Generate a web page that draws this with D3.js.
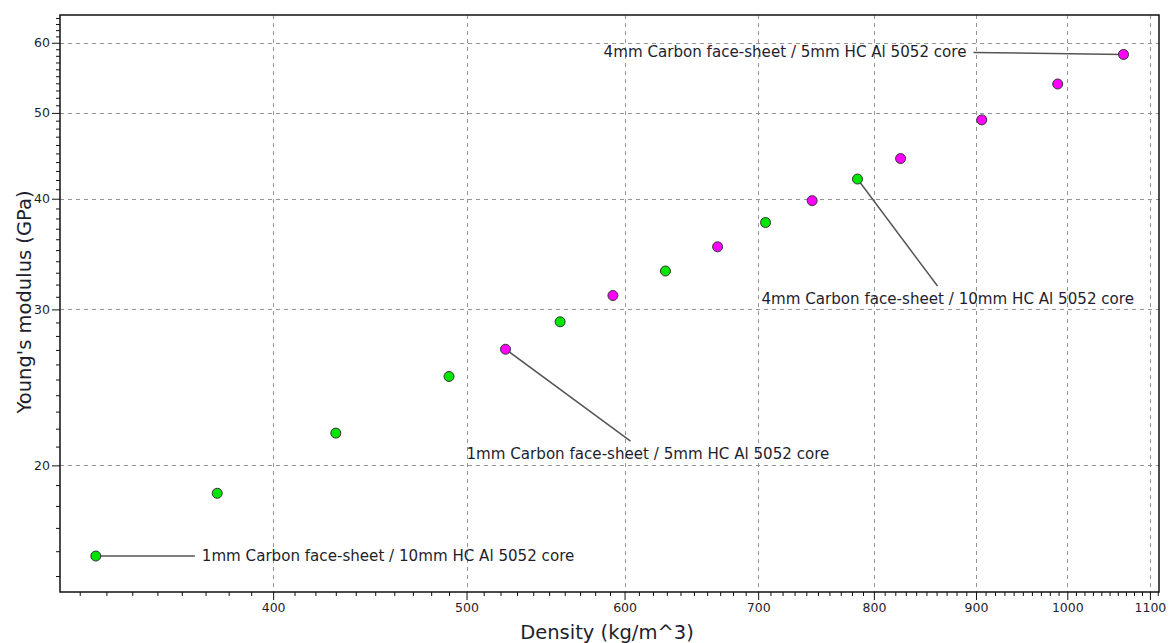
<!DOCTYPE html>
<html>
<head>
<meta charset="utf-8">
<script src="https://cdn.jsdelivr.net/npm/d3@7"></script>
<style>
  html, body { margin: 0; padding: 0; background: #fff; }
  svg { display: block; }
  text { font-family: "DejaVu Sans", sans-serif; fill: #1e1e2e; }
</style>
</head>
<body>
<svg id="chart" width="1174" height="643"></svg>
<script>
// Sandwich panels: density vs. Young's modulus (log-log)
const densityGreen = [326, 375, 430, 490, 557, 629, 706, 785];
const modulusGreen = [15.8, 18.6, 21.75, 25.2, 29.05, 33.15, 37.6, 42.1];
const densityMagenta = [523, 592, 668, 745, 825, 906, 989, 1067];
const modulusMagenta = [27.05, 31.1, 35.3, 39.8, 44.4, 49.1, 53.9, 58.2];

const xTickLabels = [400, 500, 600, 700, 800, 900, 1000, 1100];
const yTickLabels = [20, 30, 40, 50, 60];

// Callouts: which series / point index, plus leader-line and text offsets (px)
const annotationText = [
  "1mm Carbon face-sheet / 10mm HC Al 5052 core",
  "1mm Carbon face-sheet / 5mm HC Al 5052 core",
  "4mm Carbon face-sheet / 10mm HC Al 5052 core",
  "4mm Carbon face-sheet / 5mm HC Al 5052 core"
];
const annotationSeries = ["green", "magenta", "green", "magenta"];
const annotationIndex = [0, 0, 7, 7];
const annotationLine = [[99, 0], [125, 92], [80, 107], [-150, -2]];
const annotationTextPos = [[106, 0, "start"], [-39, 105, "start"], [-96, 120, "start"], [-157, -2, "end"]];

const svg = d3.select("#chart");
const plotLeft = 60, plotRight = 1159, plotTop = 15, plotBottom = 592;

const x = d3.scaleLog().domain([312.8, 1111.6]).range([plotLeft, plotRight]);
const y = d3.scaleLog().domain([14.39, 64.49]).range([plotBottom, plotTop]);

// Grid
const grid = svg.append("g").attr("stroke", "#959595").attr("stroke-dasharray", "4,4").attr("stroke-width", 1);
grid.selectAll("line.v").data(xTickLabels).join("line").attr("class", "v")
  .attr("x1", d => Math.round(x(d)) + 0.5).attr("x2", d => Math.round(x(d)) + 0.5)
  .attr("y1", plotTop).attr("y2", plotBottom);
grid.selectAll("line.h").data(yTickLabels).join("line").attr("class", "h")
  .attr("y1", d => Math.round(y(d)) + 0.5).attr("y2", d => Math.round(y(d)) + 0.5)
  .attr("x1", plotLeft).attr("x2", plotRight);

// Minor tick values
const xMinor = d3.range(320, 1111, 10).filter(v => !xTickLabels.includes(v));
const yMinor = d3.range(15, 65, 1).filter(v => !yTickLabels.includes(v));

// X axis
const xAxis = svg.append("g").attr("transform", `translate(0,${plotBottom})`);
xAxis.call(d3.axisBottom(x).tickValues(xTickLabels).tickFormat(d3.format("d")).tickSize(8).tickPadding(3));
xAxis.append("g").call(d3.axisBottom(x).tickValues(xMinor).tickFormat("").tickSize(4));
xAxis.selectAll(".domain").remove();
xAxis.selectAll("line").attr("stroke", "#111");
xAxis.selectAll("text").attr("font-size", 12.5).attr("fill", "#1e1e3a").style("font-family", "DejaVu Sans");

// Y axis
const yAxis = svg.append("g").attr("transform", `translate(${plotLeft},0)`);
yAxis.call(d3.axisLeft(y).tickValues(yTickLabels).tickFormat(d3.format("d")).tickSize(8).tickPadding(2));
yAxis.append("g").call(d3.axisLeft(y).tickValues(yMinor).tickFormat("").tickSize(4));
yAxis.selectAll(".domain").remove();
yAxis.selectAll("line").attr("stroke", "#111");
yAxis.selectAll("text").attr("font-size", 12.5).attr("fill", "#1e1e3a").style("font-family", "DejaVu Sans");

// Frame
svg.append("rect").attr("x", plotLeft).attr("y", plotTop).attr("width", plotRight - plotLeft).attr("height", plotBottom - plotTop)
  .attr("fill", "none").attr("stroke", "#111").attr("stroke-width", 1.5);

// Axis titles
svg.append("text").attr("x", 607).attr("y", 639).attr("text-anchor", "middle")
  .attr("font-size", 19.5).attr("fill", "#2a2a3a").text("Density (kg/m^3)");
svg.append("text").attr("transform", "translate(31,302) rotate(-90)").attr("text-anchor", "middle")
  .attr("font-size", 19.5).attr("fill", "#2a2a3a").text("Young's modulus (GPa)");

const series = {
  green: densityGreen.map((d, i) => ({ x: d, y: modulusGreen[i] })),
  magenta: densityMagenta.map((d, i) => ({ x: d, y: modulusMagenta[i] }))
};

// Callouts (drawn beneath markers)
const ann = svg.append("g");
annotationText.forEach((t, i) => {
  const p = series[annotationSeries[i]][annotationIndex[i]];
  const px = x(p.x), py = y(p.y);
  ann.append("line").attr("x1", px).attr("y1", py)
    .attr("x2", px + annotationLine[i][0]).attr("y2", py + annotationLine[i][1])
    .attr("stroke", "#555").attr("stroke-width", 1.5);
  const tp = annotationTextPos[i];
  ann.append("text").attr("x", px + tp[0]).attr("y", py + tp[1])
    .attr("dominant-baseline", "central").attr("text-anchor", tp[2])
    .attr("font-size", 15.1).attr("fill", "#1e1e2e").text(t);
});

// Markers
const colors = { green: "#00e600", magenta: "#ff00ff" };
Object.keys(series).forEach(k => {
  svg.append("g").selectAll("circle").data(series[k]).join("circle")
    .attr("cx", d => x(d.x)).attr("cy", d => y(d.y)).attr("r", 5)
    .attr("fill", colors[k]).attr("stroke", "#333").attr("stroke-width", 1);
});
</script>
</body>
</html>
